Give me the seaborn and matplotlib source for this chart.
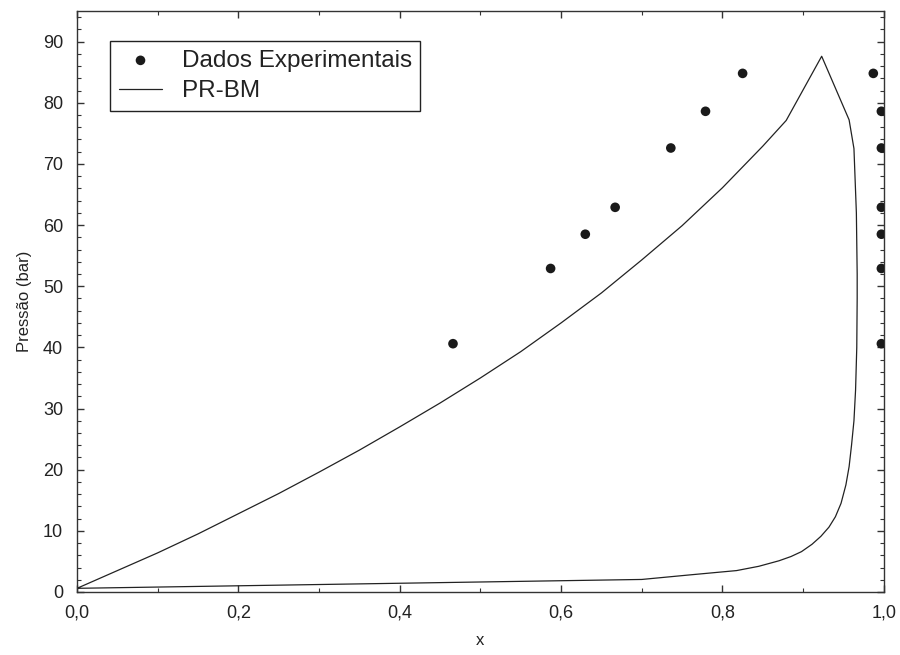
import numpy as np
import pandas as pd
import matplotlib
matplotlib.use("Agg")
import matplotlib.pyplot as plt
import seaborn as sns
from matplotlib.ticker import MultipleLocator, FuncFormatter

# Experimental data (liquid x and vapour y at each pressure)
exp_pressure = [40.6, 52.9, 58.5, 62.9, 72.6, 78.6, 84.8]
exp_x_liquid = [0.466, 0.587, 0.630, 0.667, 0.736, 0.779, 0.825]
exp_y_vapor = [0.997, 0.997, 0.997, 0.997, 0.997, 0.997, 0.987]

# PR-BM model envelope (bubble branch up to the peak, then dew branch back down)
model_x = [0.0, 0.05, 0.1, 0.15, 0.2, 0.25, 0.3, 0.35, 0.4, 0.45, 0.5, 0.55,
           0.6, 0.65, 0.7, 0.75, 0.8, 0.85, 0.879, 0.923,
           0.957, 0.963, 0.966, 0.967, 0.967, 0.9665, 0.965, 0.963, 0.960,
           0.957, 0.953, 0.947, 0.940, 0.932, 0.922, 0.911, 0.898, 0.885,
           0.870, 0.845, 0.8175, 0.76, 0.70, 0.0]
model_p = [0.6, 3.5, 6.4, 9.5, 12.8, 16.1, 19.6, 23.2, 27.0, 30.9, 35.0, 39.3,
           44.0, 48.9, 54.3, 59.9, 66.1, 72.9, 77.1, 87.6,
           77.2, 72.5, 62.0, 52.0, 48.0, 40.0, 33.0, 28.0, 24.0,
           20.5, 17.5, 14.5, 12.3, 10.6, 9.1, 7.8, 6.6, 5.8,
           5.1, 4.2, 3.5, 2.8, 2.05, 0.6]

x_ticks = [0.0, 0.2, 0.4, 0.6, 0.8, 1.0]
y_ticks = [0, 10, 20, 30, 40, 50, 60, 70, 80, 90]

sns.set_style("ticks")
plt.rcParams['font.family'] = ['Liberation Sans', 'DejaVu Sans']

fig = plt.figure(figsize=(9, 6.55), dpi=100)
ax = fig.add_axes([0.0856, 0.0962, 0.8964, 0.8870])

exp_df = pd.DataFrame({
    "x": exp_x_liquid + exp_y_vapor,
    "P": exp_pressure + exp_pressure,
})
model_df = pd.DataFrame({"x": model_x, "P": model_p})

sns.lineplot(data=model_df, x="x", y="P", sort=False, estimator=None, ax=ax,
             color="#222222", linewidth=0.9, label="PR-BM")
sns.scatterplot(data=exp_df, x="x", y="P", ax=ax, color="#1a1a1a", s=48,
                edgecolor="none", label="Dados Experimentais", zorder=3)

ax.set_xlim(0, 1.0)
ax.set_ylim(0, 95)
ax.set_xticks(x_ticks)
ax.set_yticks(y_ticks)
ax.xaxis.set_minor_locator(MultipleLocator(0.1))
ax.yaxis.set_minor_locator(MultipleLocator(2))
ax.xaxis.set_major_formatter(FuncFormatter(lambda v, p: f"{v:.1f}".replace(".", ",")))
ax.tick_params(which="both", direction="in", top=True, right=True, colors="#333333",
               labelcolor="#222222", labelsize=13)
ax.tick_params(which="major", length=5, width=1)
ax.tick_params(which="minor", length=3, width=0.8)
ax.tick_params(axis="x", which="both", pad=9)
ax.tick_params(axis="y", which="both", pad=10)
for sp in ax.spines.values():
    sp.set_visible(True)
    sp.set_color("#333333")
    sp.set_linewidth(1.0)

ax.set_xlabel("x", fontsize=12, color="#222222", labelpad=8)
ax.set_ylabel("Pressão (bar)", fontsize=12, color="#222222", labelpad=8)

handles, labels = ax.get_legend_handles_labels()
order = [labels.index("Dados Experimentais"), labels.index("PR-BM")]
leg = ax.legend([handles[i] for i in order], [labels[i] for i in order],
                loc="upper left", bbox_to_anchor=(0.041, 0.948), borderaxespad=0,
                fontsize=17.5, frameon=True, fancybox=False, edgecolor="#222222",
                framealpha=1, handlelength=1.8, handletextpad=0.8, borderpad=0.35,
                labelspacing=0.35, markerscale=1.0)
leg.get_frame().set_linewidth(1.0)
for t in leg.get_texts():
    t.set_color("#222222")

fig.savefig("out.png", dpi=100)
